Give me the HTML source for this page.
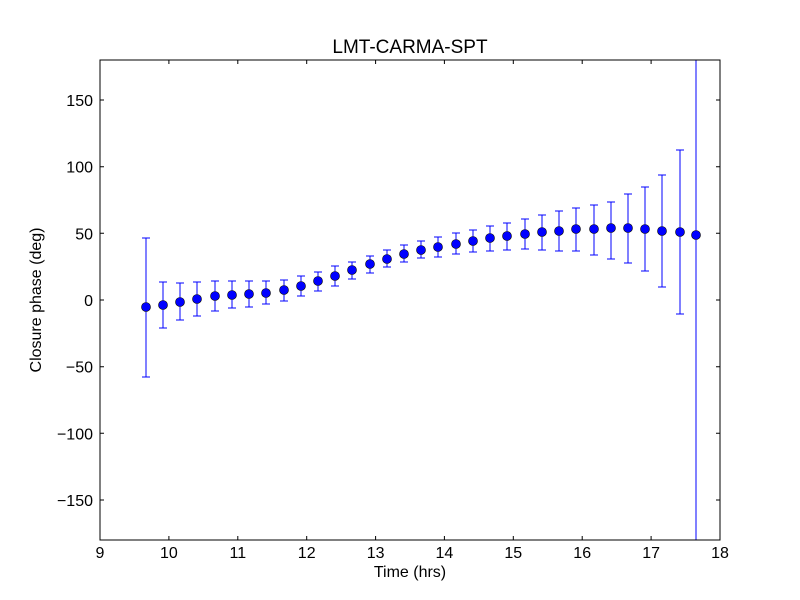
<!DOCTYPE html>
<html><head><meta charset="utf-8"><style>body{margin:0;background:#fff}svg{display:block}text{font-family:"Liberation Sans","DejaVu Sans",sans-serif;fill:#000}</style></head>
<body>
<svg width="800" height="600" xmlns="http://www.w3.org/2000/svg">
<rect width="800" height="600" fill="#fff"/>
<g stroke="#0000ff" stroke-width="1">
<path d="M146 238V377M142 238H150M142 377H150
M163 282V328M159 282H167M159 328H167
M180 283V320M176 283H184M176 320H184
M197 282V316M193 282H201M193 316H201
M215 281V311M211 281H219M211 311H219
M232 281V308M228 281H236M228 308H236
M249 281V307M245 281H253M245 307H253
M266 281V304M262 281H270M262 304H270
M284 280V301M280 280H288M280 301H288
M301 276V296M297 276H305M297 296H305
M318 272V291M314 272H322M314 291H322
M335 266V286M331 266H339M331 286H339
M352 262V279M348 262H356M348 279H356
M370 256V273M366 256H374M366 273H374
M387 250V267M383 250H391M383 267H391
M404 245V262M400 245H408M400 262H408
M421 241V258M417 241H425M417 258H425
M438 237V257M434 237H442M434 257H442
M456 233V254M452 233H460M452 254H460
M473 230V252M469 230H477M469 252H477
M490 226V251M486 226H494M486 251H494
M507 223V250M503 223H511M503 250H511
M525 219V249M521 219H529M521 249H529
M542 215V250M538 215H546M538 250H546
M559 211V251M555 211H563M555 251H563
M576 208V251M572 208H580M572 251H580
M594 205V255M590 205H598M590 255H598
M611 202V259M607 202H615M607 259H615
M628 194V263M624 194H632M624 263H632
M645 187V271M641 187H649M641 271H649
M662 175V287M658 175H666M658 287H666
M680 150V314M676 150H684M676 314H684
M696 60V540" fill="none"/>
</g>
<g fill="#0000ff" stroke="#000" stroke-width="0.6">
<circle cx="146" cy="307" r="4.5"/><circle cx="163" cy="305" r="4.5"/><circle cx="180" cy="302" r="4.5"/><circle cx="197" cy="299" r="4.5"/><circle cx="215" cy="296" r="4.5"/><circle cx="232" cy="295" r="4.5"/><circle cx="249" cy="294" r="4.5"/><circle cx="266" cy="293" r="4.5"/><circle cx="284" cy="290" r="4.5"/><circle cx="301" cy="286" r="4.5"/><circle cx="318" cy="281" r="4.5"/><circle cx="335" cy="276" r="4.5"/><circle cx="352" cy="270" r="4.5"/><circle cx="370" cy="264" r="4.5"/><circle cx="387" cy="259" r="4.5"/><circle cx="404" cy="254" r="4.5"/><circle cx="421" cy="250" r="4.5"/><circle cx="438" cy="247" r="4.5"/><circle cx="456" cy="244" r="4.5"/><circle cx="473" cy="241" r="4.5"/><circle cx="490" cy="238" r="4.5"/><circle cx="507" cy="236" r="4.5"/><circle cx="525" cy="234" r="4.5"/><circle cx="542" cy="232" r="4.5"/><circle cx="559" cy="231" r="4.5"/><circle cx="576" cy="229" r="4.5"/><circle cx="594" cy="229" r="4.5"/><circle cx="611" cy="228" r="4.5"/><circle cx="628" cy="228" r="4.5"/><circle cx="645" cy="229" r="4.5"/><circle cx="662" cy="231" r="4.5"/><circle cx="680" cy="232" r="4.5"/><circle cx="696" cy="235" r="4.5"/>
</g>
<rect x="100" y="60" width="620" height="480" fill="none" stroke="#000" stroke-width="1"/>
<path stroke="#000" stroke-width="1" fill="none" d="
M168.9 540V536M237.8 540V536M306.7 540V536M375.6 540V536M444.4 540V536M513.3 540V536M582.2 540V536M651.1 540V536
M168.9 60V64M237.8 60V64M306.7 60V64M375.6 60V64M444.4 60V64M513.3 60V64M582.2 60V64M651.1 60V64
M100 100H104M100 166.7H104M100 233.3H104M100 300H104M100 366.7H104M100 433.3H104M100 500H104
M720 100H716M720 166.7H716M720 233.3H716M720 300H716M720 366.7H716M720 433.3H716M720 500H716"/>
<g font-size="16" text-anchor="middle">
<text x="100" y="558">9</text><text x="168.9" y="558">10</text><text x="237.8" y="558">11</text><text x="306.7" y="558">12</text><text x="375.6" y="558">13</text><text x="444.4" y="558">14</text><text x="513.3" y="558">15</text><text x="582.2" y="558">16</text><text x="651.1" y="558">17</text><text x="720" y="558">18</text>
</g>
<g font-size="16" text-anchor="end">
<text x="93" y="106">150</text><text x="93" y="172.7">100</text><text x="93" y="239.3">50</text><text x="93" y="306">0</text><text x="93" y="372.7">−50</text><text x="93" y="439.3">−100</text><text x="93" y="506">−150</text>
</g>
<text x="410" y="53" font-size="19" text-anchor="middle">LMT-CARMA-SPT</text>
<text x="410" y="577" font-size="16" text-anchor="middle">Time (hrs)</text>
<text x="41" y="300" font-size="16" text-anchor="middle" transform="rotate(-90 41 300)">Closure phase (deg)</text>
</svg>
</body></html>
